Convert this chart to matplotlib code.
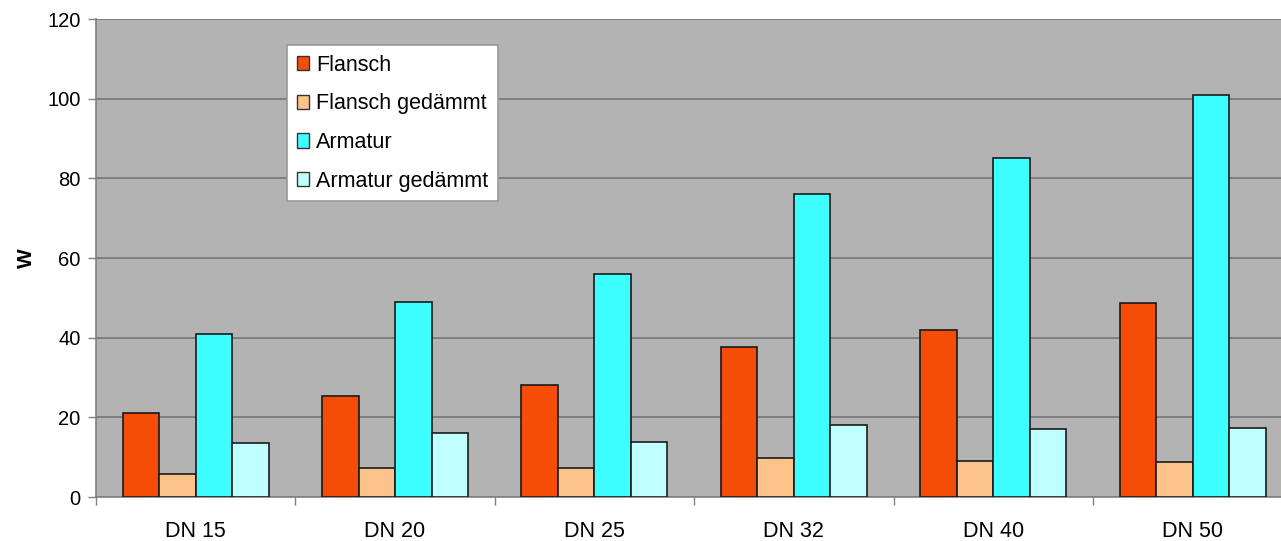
import numpy as np
import matplotlib.pyplot as plt
from matplotlib.ticker import FixedLocator, MultipleLocator

plt.rcParams['font.family'] = ['Liberation Sans', 'DejaVu Sans']

### data (Wärmeverlust in W)
nennweiten = ['DN 15', 'DN 20', 'DN 25', 'DN 32', 'DN 40', 'DN 50']
flansch = [21, 25.3, 28, 37.7, 42, 48.8]
flansch_gedaemmt = [5.9, 7.3, 7.3, 9.7, 9.1, 8.9]
armatur = [41, 49, 56, 76.2, 85, 100.9]
armatur_gedaemmt = [13.5, 16, 13.9, 18, 17.1, 17.4]

serien = ['Flansch', 'Flansch gedämmt', 'Armatur', 'Armatur gedämmt']
farben = ['#F54C07', '#FCC38B', '#3DFFFF', '#C0FFFF']
werte = [flansch, flansch_gedaemmt, armatur, armatur_gedaemmt]

### plot
fig = plt.figure(figsize=(12.81, 5.41), dpi=100)
ax = fig.add_axes([0.0749, 0.0813, 0.934, 0.8835])
ax.set_facecolor('#B3B3B3')

x = np.arange(len(nennweiten))
w = 0.183
for i, (name, farbe, y) in enumerate(zip(serien, farben, werte)):
    ax.bar(x + (i - 1.5) * w, y, w, color=farbe, edgecolor='#1a1a1a',
           linewidth=1.2, label=name, zorder=3)

ax.set_xlim(-0.5, 5.5)
ax.set_ylim(0, 120)
ax.yaxis.set_major_locator(MultipleLocator(20))
ax.grid(axis='y', color='#7a7a7a', linewidth=1.3, zorder=0)

ax.set_xticks(x)
ax.set_xticklabels(nennweiten)
ax.xaxis.set_minor_locator(FixedLocator(np.arange(-0.5, 6, 1)))
ax.tick_params(axis='x', which='major', length=0, pad=17, labelsize=15.5)
ax.tick_params(axis='x', which='minor', length=6, color='#808080', width=1)
ax.tick_params(axis='y', length=6, color='#808080', width=1, pad=5, labelsize=14.5)

for s in ['top', 'right']:
    ax.spines[s].set_visible(False)
for s in ['left', 'bottom']:
    ax.spines[s].set_color('#808080')
    ax.spines[s].set_linewidth(1.2)

ax.set_ylabel('W', fontsize=15, fontweight='bold', labelpad=8)

leg = ax.legend(loc='upper left', bbox_to_anchor=(0.1597, 0.9456), borderaxespad=0,
                fontsize=15.5, frameon=True, fancybox=False, framealpha=1,
                edgecolor='#999999', handlelength=0.55, handleheight=0.65,
                handletextpad=0.35, labelspacing=0.82, borderpad=0.45)
leg.get_frame().set_linewidth(1.2)
for h in leg.legend_handles:
    h.set_edgecolor('#333333')
    h.set_linewidth(1)

plt.savefig('out.png', dpi=100)
